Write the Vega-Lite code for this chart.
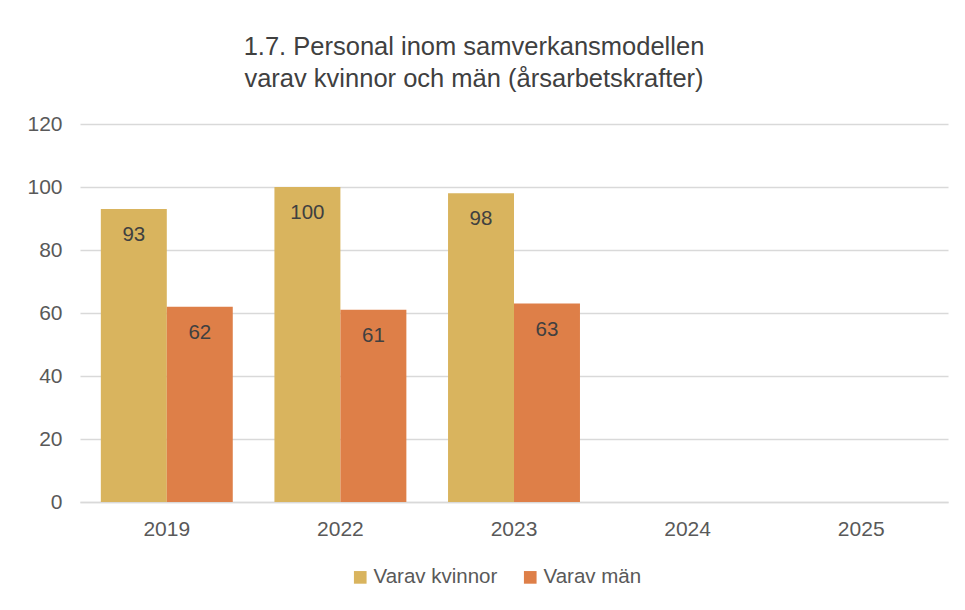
{
  "$schema": "https://vega.github.io/schema/vega-lite/v6.json",
  "autosize": {"type": "none"},
  "width": 868,
  "height": 378,
  "padding": {"left": 80, "top": 124, "right": 17, "bottom": 108},
  "background": "white",
  "config": {
    "view": {"stroke": null},
    "font": "Liberation Sans",
    "axis": {"labelFont": "Liberation Sans", "labelColor": "#595959", "labelFontSize": 21},
    "legend": {"labelFont": "Liberation Sans", "labelColor": "#595959", "labelFontSize": 20.5}
  },
  "title": {
    "text": ["1.7. Personal inom samverkansmodellen", "varav kvinnor och män (årsarbetskrafter)"],
    "fontSize": 25.5,
    "fontWeight": "normal",
    "color": "#404040",
    "lineHeight": 32,
    "anchor": "middle",
    "frame": "group",
    "dx": -40,
    "offset": 21
  },
  "data": {
    "values": [
      {"year": "2019", "serie": "Varav kvinnor", "value": 93},
      {"year": "2019", "serie": "Varav män", "value": 62},
      {"year": "2022", "serie": "Varav kvinnor", "value": 100},
      {"year": "2022", "serie": "Varav män", "value": 61},
      {"year": "2023", "serie": "Varav kvinnor", "value": 98},
      {"year": "2023", "serie": "Varav män", "value": 63}
    ]
  },
  "encoding": {
    "x": {
      "field": "year", "type": "nominal", "title": null,
      "scale": {"domain": ["2019", "2022", "2023", "2024", "2025"], "paddingInner": 0.24, "paddingOuter": 0.12},
      "axis": {"labelAngle": 0, "ticks": false, "domainColor": "#d9d9d9", "domainWidth": 1.5, "labelPadding": 16}
    },
    "xOffset": {"field": "serie", "type": "nominal", "scale": {"domain": ["Varav kvinnor", "Varav män"], "paddingInner": 0, "paddingOuter": 0}},
    "y": {
      "field": "value", "type": "quantitative", "title": null,
      "scale": {"domain": [0, 120]},
      "axis": {"values": [0, 20, 40, 60, 80, 100, 120], "ticks": false, "domain": false, "gridColor": "#d9d9d9", "gridWidth": 1.5, "labelPadding": 18}
    }
  },
  "layer": [
    {
      "mark": {"type": "bar"},
      "encoding": {
        "color": {
          "field": "serie", "type": "nominal",
          "scale": {"domain": ["Varav kvinnor", "Varav män"], "range": ["#D9B45E", "#DE7F48"]},
          "legend": {"title": null, "orient": "none", "legendX": 270, "legendY": 443, "direction": "horizontal", "symbolType": "square", "symbolSize": 160, "symbolStrokeWidth": 0, "columnPadding": 22, "labelOffset": 3}
        }
      }
    },
    {
      "mark": {"type": "text", "baseline": "middle", "dy": 26, "fontSize": 20.5, "color": "#404040"},
      "encoding": {"text": {"field": "value", "type": "quantitative"}}
    }
  ]
}
